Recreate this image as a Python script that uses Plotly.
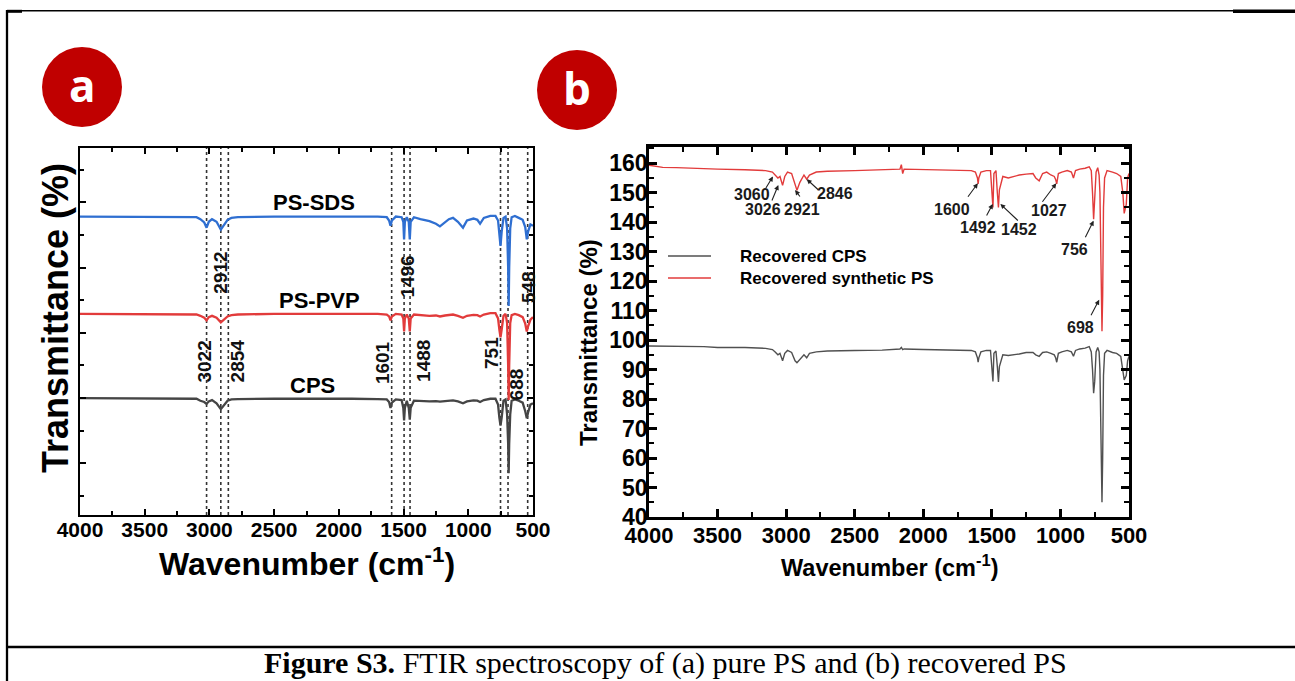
import plotly.graph_objects as go

W, H = 1295, 681

# ---------------- Panel (a) data: pure PS spectra (arbitrary offset units) ----------------
wn_a = [4000, 3700, 3400, 3150, 3100, 3070, 3040, 3022, 3005, 2980,
        2945, 2912, 2885, 2860, 2830, 2780, 2500, 2200, 1900, 1700,
        1630, 1612, 1601, 1590, 1560, 1515, 1502, 1496, 1490, 1475,
        1460, 1452, 1445, 1420, 1370, 1300, 1250, 1219, 1180, 1150,
        1118, 1080, 1041, 1010, 960, 930, 909, 880, 830, 790,
        770, 760, 751, 742, 728, 712, 700, 692, 688, 684,
        676, 665, 640, 610, 580, 560, 548, 538, 520, 500]
t_sds = [3.78, 3.78, 3.775, 3.78, 3.77, 3.74, 3.69, 3.61, 3.70, 3.74,
         3.70, 3.58, 3.66, 3.73, 3.76, 3.77, 3.78, 3.785, 3.78, 3.78,
         3.77, 3.72, 3.64, 3.72, 3.78, 3.77, 3.70, 3.43, 3.70, 3.77,
         3.70, 3.43, 3.70, 3.77, 3.74, 3.71, 3.67, 3.63, 3.69, 3.74,
         3.76, 3.70, 3.61, 3.72, 3.75, 3.73, 3.67, 3.76, 3.79, 3.79,
         3.72, 3.55, 3.33, 3.55, 3.76, 3.78, 3.60, 3.00, 2.41, 3.00,
         3.60, 3.77, 3.79, 3.76, 3.73, 3.62, 3.43, 3.55, 3.66, 3.64]
t_pvp = [2.29, 2.29, 2.285, 2.29, 2.28, 2.26, 2.23, 2.19, 2.24, 2.26,
         2.23, 2.16, 2.21, 2.25, 2.27, 2.28, 2.29, 2.295, 2.29, 2.29,
         2.28, 2.25, 2.19, 2.25, 2.29, 2.28, 2.22, 2.02, 2.22, 2.28,
         2.22, 2.02, 2.22, 2.28, 2.27, 2.26, 2.265, 2.25, 2.265, 2.275,
         2.28, 2.26, 2.23, 2.26, 2.275, 2.27, 2.25, 2.28, 2.30, 2.30,
         2.22, 2.05, 1.93, 2.05, 2.26, 2.29, 2.15, 1.50, 0.97, 1.50,
         2.15, 2.27, 2.29, 2.27, 2.24, 2.14, 2.02, 2.10, 2.20, 2.24]
t_cps = [1.00, 1.00, 0.995, 1.00, 0.99, 0.96, 0.94, 0.91, 0.95, 0.97,
         0.92, 0.83, 0.90, 0.96, 0.98, 0.985, 0.99, 0.995, 0.99, 0.985,
         0.98, 0.94, 0.85, 0.93, 0.98, 0.97, 0.85, 0.66, 0.85, 0.96,
         0.85, 0.67, 0.85, 0.96, 0.955, 0.95, 0.955, 0.945, 0.955, 0.96,
         0.965, 0.95, 0.92, 0.95, 0.965, 0.96, 0.94, 0.97, 0.99, 0.99,
         0.90, 0.70, 0.58, 0.70, 0.96, 0.98, 0.75, 0.30, -0.15, 0.30,
         0.75, 0.96, 0.98, 0.96, 0.93, 0.80, 0.69, 0.78, 0.90, 0.92]
series_a = ["PS-SDS", "PS-PVP", "CPS"]
guide_wn_a = [3022, 2912, 2854, 1592, 1496, 1450, 751, 693, 541]
peak_text_a = ["2912", "1496", "548", "3022", "2854", "1601", "1488", "751", "688"]

# ---------------- Panel (b) data: recovered PS spectra ----------------
wn_b = [4000, 3950, 3900, 3800, 3600, 3500, 3300, 3150, 3100, 3080,
        3060, 3045, 3026, 3010, 2990, 2960, 2935, 2921, 2900, 2870,
        2850, 2830, 2780, 2700, 2500, 2300, 2170, 2160, 2150, 2140,
        2000, 1800, 1650, 1620, 1605, 1600, 1595, 1580, 1540, 1510,
        1500, 1492, 1485, 1470, 1460, 1452, 1445, 1420, 1380, 1340,
        1300, 1250, 1200, 1180, 1155, 1130, 1100, 1070, 1045, 1035,
        1027, 1015, 990, 950, 920, 905, 890, 860, 820, 790,
        775, 766, 758, 750, 740, 728, 718, 712, 706, 701,
        697, 692, 686, 678, 660, 620, 590, 560, 545, 535,
        520, 510, 500]
t_syn_b = [159.3, 159.0, 158.6, 158.5, 158.0, 158.0, 157.8, 157.5, 157.0, 156.0,
           155.0, 155.5, 152.5, 155.5, 157.0, 156.5, 153.0, 150.8, 153.5, 156.0,
           154.6, 156.0, 157.0, 157.3, 157.5, 157.7, 158.0, 159.5, 156.5, 158.0,
           157.8, 157.7, 157.5, 157.0, 155.0, 153.0, 155.0, 157.0, 157.5, 157.5,
           150.0, 145.0, 156.5, 157.5, 150.0, 145.0, 151.0, 155.5, 155.0, 155.5,
           156.0, 156.3, 156.5, 155.0, 154.0, 156.5, 157.0, 156.0, 155.5, 154.5,
           153.0, 156.5, 157.0, 157.5, 157.0, 155.0, 157.5, 158.0, 158.3, 158.8,
           157.5, 150.0, 141.0, 148.0, 157.0, 158.5, 156.0, 150.0, 125.0, 108.0,
           103.0, 115.0, 145.0, 155.0, 157.5, 157.0, 156.5, 155.5, 150.0, 143.0,
           146.0, 155.0, 156.5]
t_cps_b = [98.0, 98.0, 98.0, 98.0, 97.8, 97.5, 97.5, 97.2, 96.8, 96.0,
           95.0, 95.5, 93.0, 95.5, 96.5, 95.8, 93.0, 92.3, 93.5, 95.0,
           94.0, 95.5, 96.0, 96.3, 96.5, 96.6, 97.0, 97.5, 96.8, 97.0,
           96.8, 96.5, 96.5, 96.0, 94.0, 92.5, 94.0, 96.0, 96.5, 96.5,
           91.0, 86.0, 95.5, 96.3, 91.0, 85.8, 91.0, 95.0, 94.8, 95.0,
           95.3, 95.8, 95.8, 95.0, 94.5, 95.8, 96.0, 95.5, 95.0, 94.0,
           92.5, 95.5, 96.0, 96.5, 96.0, 94.5, 96.5, 97.0, 97.3, 97.8,
           96.0, 90.0, 82.0, 86.0, 96.0, 97.5, 96.0, 90.0, 70.0, 52.0,
           45.0, 60.0, 88.0, 95.5, 96.5, 95.8, 95.5, 94.5, 90.0, 86.5,
           88.0, 93.0, 94.5]
series_b = ["Recovered CPS", "Recovered synthetic PS"]
peak_text_b = ["3060", "3026", "2921", "2846", "1600", "1492", "1452", "1027", "756", "698"]
peak_wn_b = [3096, 3057, 2935, 2850, 1602, 1493, 1438, 1030, 758, 717]
peak_t_b = [155.5, 152.6, 150.9, 154.6, 153.2, 146.2, 146.2, 153.2, 140.5, 113.7]

x_ticks = [4000, 3500, 3000, 2500, 2000, 1500, 1000, 500]
y_ticks_b = [40, 50, 60, 70, 80, 90, 100, 110, 120, 130, 140, 150, 160]

assert len(wn_a) == len(t_sds) == len(t_pvp) == len(t_cps)
assert len(wn_b) == len(t_syn_b) == len(t_cps_b)

SANS = "Arial, Liberation Sans, sans-serif"
NARROW = "Liberation Sans Narrow, Arial Narrow, Liberation Sans, sans-serif"
SERIF = "Times New Roman, Liberation Serif, serif"
BADGE = "Open Sans, Calibri, sans-serif"


def P(px, py):
    return px / W, 1 - py / H


fig = go.Figure()

for name, vals, col in zip(series_a, [t_sds, t_pvp, t_cps], ["#2f6fd1", "#e23b3b", "#454545"]):
    fig.add_trace(go.Scatter(x=wn_a, y=vals, mode="lines", name=name, showlegend=False,
                             line=dict(color=col, width=2.3), xaxis="x", yaxis="y"))

for name, vals, col in zip(series_b, [t_cps_b, t_syn_b], ["#505050", "#e23b3b"]):
    fig.add_trace(go.Scatter(x=wn_b, y=vals, mode="lines", name=name, showlegend=False,
                             line=dict(color=col, width=1.4), xaxis="x2", yaxis="y2"))

ax_common = dict(showgrid=False, zeroline=False, showline=True, linecolor="black",
                 mirror="allticks", ticks="inside", tickcolor="black", automargin=False)

fig.update_layout(
    width=W, height=H, margin=dict(l=0, r=0, t=0, b=0, pad=0, autoexpand=False),
    paper_bgcolor="white", plot_bgcolor="white", showlegend=False,
    xaxis=dict(domain=[80 / W, 533 / W], range=[4000, 500], anchor="y",
               tickvals=x_ticks, ticklen=6, tickwidth=2, linewidth=2, ticklabelstandoff=-5,
               tickfont=dict(family=SANS, size=21, color="black", weight="bold"),
               minor=dict(tickvals=[3750, 3250, 2750, 2250, 1750, 1250, 750], ticks="inside",
                          ticklen=4, tickwidth=1.5, tickcolor="black"),
               **ax_common),
    yaxis=dict(domain=[1 - 515 / H, 1 - 148 / H], range=[-0.79, 4.83], anchor="x",
               tickvals=[0, 1, 2, 3, 4], showticklabels=False, ticklen=6, tickwidth=2, linewidth=2,
               minor=dict(tickvals=[-0.5, 0.5, 1.5, 2.5, 3.5, 4.5], ticks="inside",
                          ticklen=4, tickwidth=1.5, tickcolor="black"),
               **ax_common),
    xaxis2=dict(domain=[649 / W, 1129 / W], range=[4000, 500], anchor="y2",
                tickvals=x_ticks, ticklen=8, tickwidth=2.5, linewidth=2.5, ticklabelstandoff=-3,
                tickfont=dict(family=SANS, size=22, color="black", weight="bold"),
                minor=dict(tickvals=[3750, 3250, 2750, 2250, 1750, 1250, 750], ticks="inside",
                           ticklen=5, tickwidth=2, tickcolor="black"),
                **ax_common),
    yaxis2=dict(domain=[1 - 517 / H, 1 - 147 / H], range=[40, 165.5], anchor="x2",
                tickvals=y_ticks_b, ticklen=8, tickwidth=2.5, linewidth=2.5, ticklabelstandoff=-6,
                tickfont=dict(family=SANS, size=23, color="black", weight="bold"),
                minor=dict(tickvals=[45 + 10 * i for i in range(13)], ticks="inside",
                           ticklen=5, tickwidth=2, tickcolor="black"),
                **ax_common),
)

shapes = []
annotations = []


def note(px, py, text, size, angle=0, xanchor="center", family=SANS, color="black", weight="bold"):
    x, y = P(px, py)
    annotations.append(dict(x=x, y=y, xref="paper", yref="paper", text=text, showarrow=False,
                            textangle=angle, xanchor=xanchor, yanchor="middle",
                            font=dict(family=family, size=size, color=color, weight=weight)))


# dotted guide lines in panel a
for w in guide_wn_a:
    shapes.append(dict(type="line", xref="x", yref="y domain", x0=w, x1=w, y0=0, y1=1,
                       line=dict(color="#333333", width=1.6, dash="dot"), layer="below"))

# rotated peak labels in panel a
pos_a = [(2911, 2.92), (1466, 2.86), (539, 2.70), (3034, 1.56), (2783, 1.57),
         (1657, 1.54), (1342, 1.57), (825, 1.69), (631, 1.21)]
for txt, (x, y) in zip(peak_text_a, pos_a):
    annotations.append(dict(x=x, y=y, xref="x", yref="y", text=txt, showarrow=False,
                            textangle=-90, xanchor="center", yanchor="middle",
                            font=dict(family=SANS, size=19, color="#111", weight="bold")))

# series labels in panel a
pos_sa = [(2192, 3.99), (2146, 2.50), (2204, 1.19)]
for txt, (x, y) in zip(series_a, pos_sa):
    annotations.append(dict(x=x, y=y, xref="x", yref="y", text=txt, showarrow=False,
                            xanchor="center", yanchor="middle",
                            font=dict(family=SANS, size=22, color="black", weight="bold")))

# axis titles
note(55, 318, "Transmittance (%)", 36, angle=-90)
note(307, 562, "Wavenumber (cm<sup>-1</sup>)", 32)
note(588, 343, "Transmittance (%)", 24, angle=-90)
note(889, 566, "Wavenumber (cm<sup>-1</sup>)", 23.5)

# peak annotations in panel b: arrow tail offsets and text offsets (pixels)
arrow_off = [(-8, 13), (-7, 17), (6, 8), (13, 12), (-11, 15), (-7, 13), (19, 18), (-15, 20), (-9, 18), (-9, 17)]
text_off = [(-21, 18), (-15, 24), (7, 19), (28, 14), (-26, 26), (-15, 24), (19, 26), (-7, 27), (-19, 29), (-19, 28)]
for txt, w, t, (ax_, ay_), (tx, ty) in zip(peak_text_b, peak_wn_b, peak_t_b, arrow_off, text_off):
    annotations.append(dict(x=w, y=t, xref="x2", yref="y2", text="", showarrow=True, ax=ax_, ay=ay_,
                            arrowhead=2, arrowsize=0.9, arrowwidth=1.1, arrowcolor="#222", standoff=0))
    annotations.append(dict(x=w, y=t, xref="x2", yref="y2", text=txt, showarrow=False,
                            xshift=tx, yshift=-ty, xanchor="center", yanchor="middle",
                            font=dict(family=NARROW, size=16, color="#1a1a1a", weight="bold")))

# legend of panel b (drawn manually)
for (name, col, py) in zip(series_b, ["#505050", "#e23b3b"], [256, 278]):
    x0, y0 = P(668, py)
    x1, _ = P(711, py)
    shapes.append(dict(type="line", xref="paper", yref="paper", x0=x0, x1=x1, y0=y0, y1=y0,
                       line=dict(color=col, width=1.6)))
    note(738, py, name, 17, xanchor="left")

# panel badges
for letter, (cx, cy) in zip(["a", "b"], [(82, 87), (577, 90)]):
    x0, y0 = P(cx - 40, cy + 40)
    x1, y1 = P(cx + 40, cy - 40)
    shapes.append(dict(type="circle", xref="paper", yref="paper", x0=x0, x1=x1, y0=y0, y1=y1,
                       fillcolor="#c00000", line=dict(width=0)))
    note(cx, cy - 2, letter, 44, family=BADGE, color="white")


# document table frame
def hline(py, xa, xb, wdt):
    x0, y0 = P(xa, py)
    x1, _ = P(xb, py)
    shapes.append(dict(type="line", xref="paper", yref="paper", x0=x0, x1=x1, y0=y0, y1=y0,
                       line=dict(color="black", width=wdt)))


hline(10.8, 7, 1295, 1.5)
hline(11.3, 7, 22, 3)
hline(11.3, 1233, 1295, 3.5)
hline(647, 7, 1295, 2.5)
x0, y0 = P(7, 10)
_, y1 = P(7, 681)
shapes.append(dict(type="line", xref="paper", yref="paper", x0=x0, x1=x0, y0=y0, y1=y1,
                   line=dict(color="black", width=2.3)))

# caption
note(665, 663, "<b>Figure S3.</b> FTIR spectroscopy of (a) pure PS and (b) recovered PS", 30,
     family=SERIF, weight="normal")

fig.update_layout(shapes=shapes, annotations=annotations)
fig.write_html("out.html", config={"displayModeBar": False},
               post_script="document.body.style.margin='0px';document.body.style.overflow='hidden';")
